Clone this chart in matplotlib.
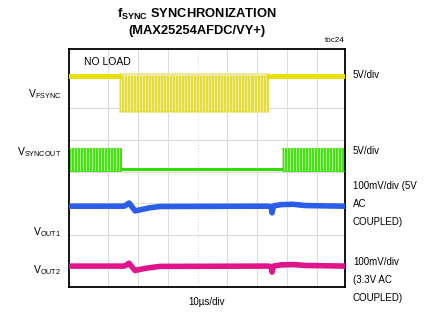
import numpy as np
import matplotlib

matplotlib.use("Agg")
import matplotlib.pyplot as plt

plt.rcParams["font.family"] = ["Liberation Sans", "DejaVu Sans"]
plt.rcParams["mathtext.fontset"] = "custom"
plt.rcParams["mathtext.rm"] = "Liberation Sans"
plt.rcParams["mathtext.bf"] = "Liberation Sans:bold"

# time axis in microseconds, vertical axis in screen divisions
t_view = (-3.0, 89.3)
y_view = (0.36, 7.87)
grid_t = [10, 20, 30, 40, 50, 60, 70, 80]
grid_y = [1, 2, 3, 4, 5, 6, 7]

# V_FSYNC (yellow): steady high, toggling burst in between
fsync_high = 7.02
fsync_low = 5.91
fsync_burst = (13.7, 63.9)
fsync_period = 1.0

# V_SYNCOUT (green): toggling, stops, resumes
sync_high = 4.74
sync_low = 4.02
sync_flat = 4.08
sync_stop = 14.7
sync_resume = 68.2
sync_period = 1.0

# V_OUT1 / V_OUT2 (AC coupled) breakpoints
out_t = [-3.0, 15.5, 17.1, 18.0, 19.1, 21.0, 24.0, 27.4, 63.8, 64.6, 64.9, 65.4, 68.0, 72.0, 76.0, 89.3]
out1_y = [2.91, 2.91, 3.01, 2.90, 2.76, 2.80, 2.86, 2.90, 2.91, 2.88, 2.70, 2.92, 2.96, 2.97, 2.93, 2.91]
out2_y = [1.02, 1.02, 1.11, 1.00, 0.88, 0.92, 0.97, 1.01, 1.02, 0.99, 0.83, 1.02, 1.06, 1.07, 1.04, 1.02]

left_labels = [("V", "FSYNC", 6.45), ("V", "SYNCOUT", 4.62), ("V", "OUT1", 2.08), ("V", "OUT2", 0.89)]
right_labels = [("5V/div", 75), ("5V/div", 151), ("100mV/div (5V\nAC\nCOUPLED)", 186), ("100mV/div\n(3.3V AC\nCOUPLED)", 262)]


def square(t0, t1, period, hi, lo):
    edges = np.arange(t0, t1, period / 2)
    lv = np.where(np.arange(len(edges)) % 2 == 0, hi, lo)
    x = np.repeat(edges, 2)[1:]
    y = np.repeat(lv, 2)[:-1]
    return x, y


fig = plt.figure(figsize=(4.31, 3.17), dpi=100)
ax = fig.add_axes([69 / 431, 1 - 287 / 317, 276 / 431, 238 / 317])
ax.set_xlim(*t_view)
ax.set_ylim(*y_view)
ax.set_xticks([])
ax.set_yticks([])
for s in ax.spines.values():
    s.set_linewidth(1.3)
    s.set_color("black")

for g in grid_t:
    ax.axvline(g, color="#dcdcdc", lw=0.8, ls=":" if g == 40 else "-", zorder=0)
for g in grid_y:
    ax.axhline(g, color="#dcdcdc", lw=0.8, zorder=0)

# yellow
yel = "#e8e000"
ax.plot([t_view[0], fsync_burst[0]], [fsync_high, fsync_high], color=yel, lw=3.5, zorder=3)
ax.plot([fsync_burst[1], t_view[1]], [fsync_high, fsync_high], color=yel, lw=3.5, zorder=3)
ax.fill_between(fsync_burst, fsync_low - 0.06, fsync_high + 0.1, color="#eeea98", lw=0, zorder=2)
x, y = square(fsync_burst[0], fsync_burst[1], fsync_period, fsync_high, fsync_low)
ax.plot(x, y, color="#dcd400", lw=0.6, alpha=0.7, zorder=3)

# green
grn = "#33dd00"
ax.fill_between([t_view[0], sync_stop], sync_low - 0.04, sync_high, color="#a8f088", lw=0, zorder=2)
ax.fill_between([sync_resume, t_view[1]], sync_low - 0.04, sync_high, color="#a8f088", lw=0, zorder=2)
x, y = square(t_view[0], sync_stop, sync_period, sync_high, sync_low)
ax.plot(x, y, color=grn, lw=0.6, zorder=3)
x, y = square(sync_resume, t_view[1], sync_period, sync_high, sync_low)
ax.plot(x, y, color=grn, lw=0.6, zorder=3)
ax.plot([sync_stop, sync_resume], [sync_flat, sync_flat], color=grn, lw=2.2, zorder=3)

# outputs
ax.plot(out_t, out1_y, color="#2a5ee8", lw=4, solid_joinstyle="round", zorder=3)
ax.plot(out_t, out2_y, color="#e0158c", lw=4, solid_joinstyle="round", zorder=3)

ax.text(2.0, 7.45, "NO LOAD", fontsize=7.5, va="center", ha="left")

for main, sub, yy in left_labels:
    fig.text(61 / 431, ax.transData.transform((0, yy))[1] / 317, main + r"$_{\mathrm{" + sub + "}}$",
             fontsize=7.5, ha="right", va="center")

for txt, ypix in right_labels:
    fig.text(353 / 431, 1 - (ypix - 5) / 317, txt, fontsize=7, ha="left", va="top", linespacing=2.0)

fig.text(197 / 431, 1 - 14 / 317, r"f$_{\mathbf{SYNC}}$ SYNCHRONIZATION", fontsize=9.3, fontweight="bold",
         ha="center", va="center")
fig.text(197 / 431, 1 - 31 / 317, "(MAX25254AFDC/VY+)", fontsize=9.3, fontweight="bold", ha="center", va="center")
fig.text(345 / 431, 1 - 41 / 317, "toc24", fontsize=5.8, ha="right", va="center")
fig.text(207 / 431, 1 - 302 / 317, "10µs/div", fontsize=7, ha="center", va="center")

fig.savefig("out.png", dpi=100)
